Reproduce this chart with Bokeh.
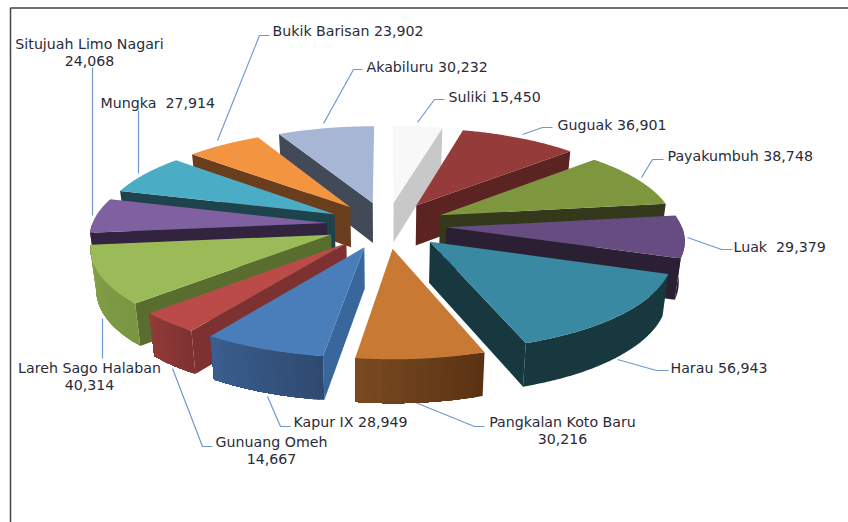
import numpy as np
from bokeh.plotting import figure
from bokeh.models import Range1d, ColumnDataSource
from bokeh.embed import file_html
from bokeh.resources import INLINE
from bokeh.core.properties import value

districts = ["Suliki", "Guguak", "Payakumbuh", "Luak", "Harau", "Pangkalan Koto Baru", "Kapur IX",
             "Gunuang Omeh", "Lareh Sago Halaban", "Situjuah Limo Nagari", "Mungka", "Bukik Barisan", "Akabiluru"]
population = [15450, 36901, 38748, 29379, 56943, 30216, 28949, 14667, 40314, 24068, 27914, 23902, 30232]

# top, cut face, wall start, wall end
top_colors = ["#f8f8f8", "#953c3a", "#7e973f", "#664c80", "#3a89a3", "#c87a34", "#4a7ebb",
              "#bb4b48", "#9bbb59", "#7f60a0", "#4bacc6", "#f39441", "#a8b6d5"]
cut_colors = ["#c8c8c8", "#5b2321", "#33391a", "#2a1f33", "#18383f", "#5a3314", "#3a679b",
              "#7d3231", "#596d2f", "#32243f", "#1f434c", "#6a3d1c", "#424a58"]
wall_a = ["#c8c8c8", "#5b2321", "#33391a", "#2a1f33", "#18383f", "#5a3314", "#2f4a70",
          "#7d3231", "#7a9642", "#32243f", "#1f434c", "#6a3d1c", "#424a58"]
wall_b = ["#c8c8c8", "#5b2321", "#33391a", "#2a1f33", "#18383f", "#7b4a22", "#3a5f8f",
          "#933b39", "#84a04a", "#32243f", "#1f434c", "#6a3d1c", "#424a58"]

leader_color = "#7099cc"
text_color = "#2b2b3a"

# projection of the exploded disc
CX, CY, RX, RY, PERSP, EXPLODE, DEPTH = 386.0, 224.5, 235.0, 91.0, 0.12, 0.255, 40.5


def project(X, Y, lower=False):
    s = 1.0 / (1.0 + PERSP * Y)
    px = X * RX * s
    py = -Y * RY * s
    if lower:
        return CX + px * 0.98, CY + py + DEPTH * np.sqrt(s)
    return CX + px, CY + py


def hexmix(a, b, t):
    ca = [int(a[i:i + 2], 16) for i in (1, 3, 5)]
    cb = [int(b[i:i + 2], 16) for i in (1, 3, 5)]
    return "#%02x%02x%02x" % tuple(int(round(u + (v - u) * t)) for u, v in zip(ca, cb))


vals = np.array(population, dtype=float)
edges = np.concatenate([[0.0], np.cumsum(vals) / vals.sum() * 2 * np.pi])
mids = (edges[:-1] + edges[1:]) / 2

xs, ys, fills = [], [], []


def add(x, y, c):
    xs.append(list(map(float, x)))
    ys.append(list(map(float, y)))
    fills.append(c)


order = np.argsort(-np.cos(mids))
for i in order:
    a, b, m = edges[i], edges[i + 1], mids[i]
    ox, oy = EXPLODE * np.sin(m), EXPLODE * np.cos(m)
    t = np.linspace(a, b, 80)
    AX, AY = ox + np.sin(t), oy + np.cos(t)

    def cut(th):
        OX, OY = ox + np.sin(th), oy + np.cos(th)
        x1, y1 = project(ox, oy)
        x2, y2 = project(OX, OY)
        x3, y3 = project(OX, OY, True)
        x4, y4 = project(ox, oy, True)
        add([x1, x2, x3, x4], [y1, y2, y3, y4], cut_colors[i])

    if np.sin(a) < -1e-6:
        cut(a)
    if np.sin(b) > 1e-6:
        cut(b)

    vis = np.where(np.cos(t) < 0)[0]
    if len(vis) > 1:
        flat = wall_a[i] == wall_b[i]
        starts = [vis[0]] if flat else list(range(vis[0], vis[-1], 3))
        n = len(starts)
        for k, st in enumerate(starts):
            # each band runs to the wall's end, later bands paint over it: no seams
            j = np.arange(st, vis[-1] + 1)
            x1, y1 = project(AX[j], AY[j])
            x2, y2 = project(AX[j], AY[j], True)
            add(np.r_[x1, x2[::-1]], np.r_[y1, y2[::-1]],
                hexmix(wall_a[i], wall_b[i], k / max(n - 1, 1)))

    tx, ty = project(np.r_[ox, AX], np.r_[oy, AY])
    add(tx, ty, top_colors[i])

p = figure(width=848, height=522, output_backend="svg", toolbar_location=None,
           x_range=Range1d(0, 848), y_range=Range1d(522, 0), min_border=0)
p.axis.visible = False
p.grid.visible = False
p.outline_line_color = None
p.background_fill_color = "white"

# frame of the pasted picture
p.line([848, 10, 10], [7.5, 7.5, 522], line_color="#444444", line_width=1.5)

# leader lines, drawn under the pie
leaders = {
    "Bukik Barisan": ([217, 259, 269], [140, 35, 35]),
    "Akabiluru": ([323, 353, 362], [123, 69, 69]),
    "Suliki": ([417, 434, 444], [122, 99, 99]),
    "Guguak": ([522, 542, 552], [134, 127, 127]),
    "Payakumbuh": ([641, 652, 663], [177, 159, 159]),
    "Luak": ([687, 721, 732], [237, 249, 249]),
    "Harau": ([617, 656, 668], [359, 370, 370]),
    "Pangkalan Koto Baru": ([410, 474, 484], [400, 426, 426]),
    "Kapur IX": ([267, 280, 290], [396, 426, 426]),
    "Gunuang Omeh": ([172, 202, 212], [368, 446, 446]),
    "Lareh Sago Halaban": ([102, 102], [318, 358]),
    "Situjuah Limo Nagari": ([92, 92], [67, 215]),
    "Mungka": ([138, 138], [110, 173]),
}
p.multi_line(list(map(lambda k: leaders[k][0], leaders)), list(map(lambda k: leaders[k][1], leaders)),
             line_color=leader_color, line_width=1.2)

p.patches(xs="xs", ys="ys", fill_color="fill", line_color=None,
          source=ColumnDataSource(dict(xs=xs, ys=ys, fill=fills)))

# label anchors: (x, y of first line, align, two lines?, separator)
anchors = {
    "Bukik Barisan": (272, 30, "left", False, " "),
    "Akabiluru": (366, 66, "left", False, " "),
    "Suliki": (448, 96, "left", False, " "),
    "Guguak": (557, 124, "left", False, " "),
    "Payakumbuh": (667, 155, "left", False, " "),
    "Luak": (733, 246, "left", False, "\u00a0 "),
    "Harau": (670, 367, "left", False, " "),
    "Pangkalan Koto Baru": (562, 421, "center", True, ""),
    "Kapur IX": (293, 421, "left", False, " "),
    "Gunuang Omeh": (271, 441, "center", True, ""),
    "Lareh Sago Halaban": (89, 367, "center", True, ""),
    "Situjuah Limo Nagari": (89, 43, "center", True, ""),
    "Mungka": (100, 102, "left", False, "\u00a0 "),
}
tx, ty, tt, ta = [], [], [], []
for name, v in zip(districts, population):
    x, y, al, two, sep = anchors[name]
    if two:
        tx += [x, x]; ty += [y, y + 17]; tt += [name, f"{v:,}"]; ta += [al, al]
    else:
        tx.append(x); ty.append(y); tt.append(f"{name}{sep}{v:,}"); ta.append(al)
p.text(x="x", y="y", text="t", text_align="a", text_baseline="middle",
       text_font=value("DejaVu Sans"), text_font_size="14.2px", text_color=text_color,
       source=ColumnDataSource(dict(x=tx, y=ty, t=tt, a=ta)))

open("out.html", "w").write(file_html(p, INLINE))
